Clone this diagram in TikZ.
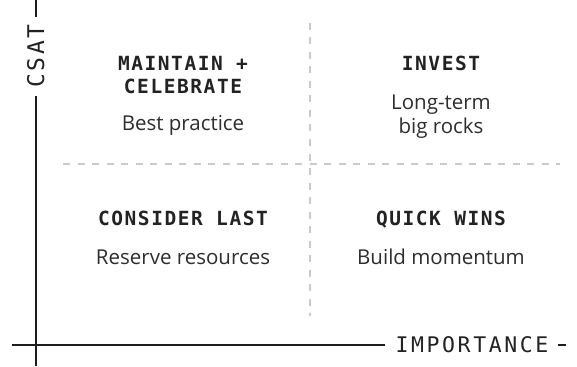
\documentclass[tikz,border=0pt]{standalone}
\usepackage{fontspec}
\setmainfont{Open Sans}
\newfontfamily\headfont[LetterSpace=8]{DejaVu Sans Mono}
\newfontfamily\axisfont[LetterSpace=12]{DejaVu Sans Mono}
\usetikzlibrary{positioning}

\definecolor{ink}{HTML}{222222}
\definecolor{axisline}{HTML}{1C1C1C}
\definecolor{gridline}{HTML}{C8CACD}

\begin{document}
\begin{tikzpicture}[
  x=1pt,
  y=-1pt,
  head/.style={anchor=base, inner sep=0pt, text=ink, font=\headfont\bfseries\fontsize{19.5}{23}\selectfont},
  body/.style={anchor=base, inner sep=0pt, text=ink!95, font=\fontsize{20.5}{24}\selectfont},
  axislabel/.style={anchor=base, inner sep=0pt, text=ink, font=\axisfont\fontsize{21.5}{24}\selectfont},
  axis/.style={draw=axisline, line width=1.6pt},
  grid/.style={draw=gridline, line width=1.4pt, dash pattern=on 7pt off 7.5pt}
]
  \useasboundingbox (0,0) rectangle (577,366);

  % axes
  \coordinate (ytip) at (36,0);
  \coordinate (ytick) at (36,17);
  \coordinate (ytop) at (36,96);
  \coordinate (ybot) at (36,366);
  \coordinate (xleft) at (12,345);
  \coordinate (xright) at (385,345);
  \coordinate (xtick) at (558,345);
  \coordinate (xtip) at (566,345);

  \draw[axis] (ytip) -- (ytick);
  \draw[axis] (ytop) -- (ybot);
  \draw[axis] (xleft) -- (xright);
  \draw[axis] (xtick) -- (xtip);

  \node[axislabel, rotate=90, font=\axisfont\fontsize{23}{26}\selectfont] (csat) at (44,56) {CSAT};
  \node[axislabel] (importance) at (472,352.5) {IMPORTANCE};

  % quadrant dividers
  \coordinate (vtop) at (310,23);
  \coordinate (vbot) at (310,316);
  \coordinate (hleft) at (63,164);
  \coordinate (hright) at (560,164);
  \draw[grid] (vtop) -- (vbot);
  \draw[grid] (hleft) -- (hright);

  % top left
  \node[head] (maintain) at (183,71) {MAINTAIN +};
  \node[head] (celebrate) at (183,94) {CELEBRATE};
  \node[body] (best) at (183,131) {Best practice};

  % top right
  \node[head] (invest) at (441,71) {INVEST};
  \node[body] (longterm) at (441,110) {Long-term};
  \node[body] (bigrocks) at (441,134) {big rocks};

  % bottom left
  \node[head] (consider) at (183,225) {CONSIDER LAST};
  \node[body] (reserve) at (183,264) {Reserve resources};

  % bottom right
  \node[head] (quick) at (441,225) {QUICK WINS};
  \node[body] (build) at (441,264) {Build momentum};
\end{tikzpicture}
\end{document}
